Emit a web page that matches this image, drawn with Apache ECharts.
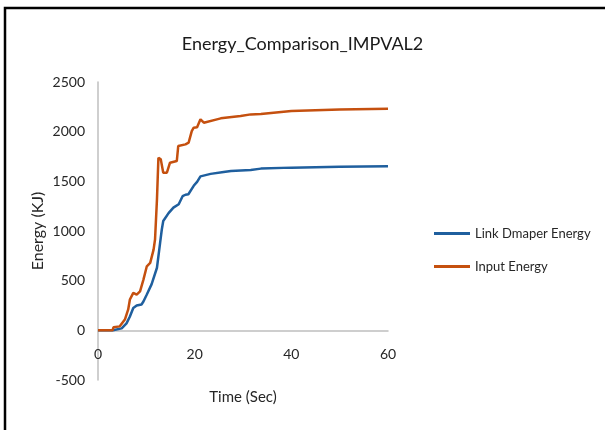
<!DOCTYPE html>
<html><head><meta charset="utf-8">
<script src="https://cdn.jsdelivr.net/npm/echarts@6/dist/echarts.min.js"></script>
<style>html,body{margin:0;padding:0;background:#fff}#c{width:605px;height:430px}</style>
</head><body><div id="c"></div>
<script>
const seriesNames = ['Link Dmaper Energy', 'Input Energy'];
const xTicks = [0, 20, 40, 60];
const yTicks = [-500, 0, 500, 1000, 1500, 2000, 2500];
const timeLink = [0, 3.1, 4.9, 5.9, 6.6, 7.3, 8.0, 9.0, 9.4, 10.1, 11.1, 12.2, 12.85, 13.2, 13.5, 14.6, 15.6, 16.7, 17.5, 18.1, 18.7, 19.8, 20.5, 21.2, 23.3, 26, 27.5, 31.6, 33.7, 40, 50, 60];
const linkEnergy = [0, 0, 20, 70, 140, 225, 250, 260, 290, 360, 465, 630, 880, 1015, 1100, 1180, 1235, 1270, 1350, 1365, 1370, 1455, 1495, 1550, 1575, 1595, 1605, 1615, 1628, 1638, 1648, 1653];
const timeInput = [0, 3.0, 3.2, 3.5, 4.5, 5.56, 6.25, 6.6, 7.3, 8.0, 8.7, 9.4, 10.1, 10.8, 11.5, 11.8, 12.2, 12.5, 12.99, 13.5, 13.9, 14.25, 14.9, 15.3, 16.3, 16.6, 17.0, 18.1, 18.75, 19.4, 19.8, 20.5, 21.2, 21.9, 24.6, 25.4, 29.5, 31.6, 33.7, 40, 50, 60];
const inputEnergy = [0, 0, 30, 10, 40, 108, 210, 310, 377, 360, 393, 511, 645, 679, 813, 914, 1318, 1738, 1721, 1587, 1570, 1587, 1688, 1688, 1704, 1855, 1872, 1872, 1889, 2006, 2040, 2045, 2124, 2090, 2124, 2134, 2157, 2174, 2178, 2208, 2222, 2231];

const font = 'Lato, "Open Sans", sans-serif';
const gridTop = 82, gridBottom = 50, H = 430;
const gridH = H - gridTop - gridBottom;
const zeroOffset = gridH * (0 - yTicks[0]) / (yTicks[yTicks.length - 1] - yTicks[0]);
const chart = echarts.init(document.getElementById('c'), null, {renderer: 'canvas'});
chart.setOption({
  backgroundColor: '#fff',
  animation: false,
  title: {
    text: 'Energy_Comparison_IMPVAL2', left: 'center', top: 30,
    textStyle: {fontFamily: font, fontSize: 18, fontWeight: 'normal', color: '#1a1a1a'}
  },
  graphic: [{
    type: 'rect', shape: {x: 5, y: 8, width: 640, height: 460},
    style: {fill: 'none', stroke: '#000', lineWidth: 2.5}, silent: true
  }],
  legend: {
    orient: 'vertical', left: 429, top: 222, itemGap: 20,
    icon: 'rect', itemWidth: 36, itemHeight: 3,
    textStyle: {fontFamily: font, fontSize: 13, color: '#262626'},
    data: seriesNames
  },
  grid: {left: 98, right: 217, top: gridTop, bottom: gridBottom, containLabel: false, outerBoundsMode: 'none'},
  xAxis: {
    type: 'value', min: xTicks[0], max: xTicks[xTicks.length - 1], interval: 20,
    offset: -zeroOffset,
    name: 'Time (Sec)', nameLocation: 'middle', nameGap: 59,
    nameTextStyle: {fontFamily: font, fontSize: 15, color: '#262626'},
    axisLine: {onZero: false, lineStyle: {color: '#bfbfbf', width: 1.5}},
    axisTick: {show: false}, splitLine: {show: false},
    axisLabel: {fontFamily: font, fontSize: 14, color: '#262626', margin: 17, formatter: v => String(v)}
  },
  yAxis: {
    type: 'value', min: yTicks[0], max: yTicks[yTicks.length - 1], interval: 500,
    name: 'Energy (KJ)', nameLocation: 'middle', nameGap: 52,
    nameTextStyle: {fontFamily: font, fontSize: 16, color: '#262626'},
    axisLine: {show: true, lineStyle: {color: '#bfbfbf', width: 1.5}},
    axisTick: {show: false}, splitLine: {show: false},
    axisLabel: {fontFamily: font, fontSize: 14, color: '#262626', margin: 13, formatter: v => String(v)}
  },
  series: [
    {name: seriesNames[0], type: 'line', showSymbol: false, symbol: 'none',
     data: timeLink.map((t, i) => [t, linkEnergy[i]]),
     lineStyle: {color: '#1f5f9e', width: 2.5}, itemStyle: {color: '#1f5f9e'}},
    {name: seriesNames[1], type: 'line', showSymbol: false, symbol: 'none',
     data: timeInput.map((t, i) => [t, inputEnergy[i]]),
     lineStyle: {color: '#c5500f', width: 2.5}, itemStyle: {color: '#c5500f'}}
  ]
});
</script></body></html>
